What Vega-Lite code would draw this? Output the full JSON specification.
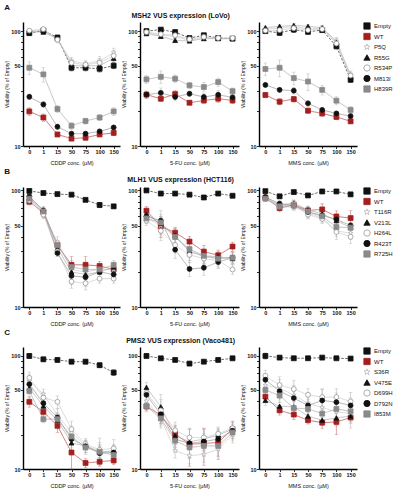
{
"$schema":"https://vega.github.io/schema/vega-lite/v6.json",
"padding":{"left":4,"top":3,"right":2,"bottom":2},
"background":"white",
"datasets":{"d":[
{"g":"A","d":"CDDP","s":"Empty","c":0,"v":96,"e":4},{"g":"A","d":"CDDP","s":"Empty","c":1,"v":101,"e":4},{"g":"A","d":"CDDP","s":"Empty","c":15,"v":88,"e":4},{"g":"A","d":"CDDP","s":"Empty","c":50,"v":48,"e":3},{"g":"A","d":"CDDP","s":"Empty","c":75,"v":48,"e":3},{"g":"A","d":"CDDP","s":"Empty","c":100,"v":47,"e":3},{"g":"A","d":"CDDP","s":"Empty","c":150,"v":50,"e":3},
{"g":"A","d":"CDDP","s":"WT","c":0,"v":20,"e":1.5},{"g":"A","d":"CDDP","s":"WT","c":1,"v":17.7,"e":1.3},{"g":"A","d":"CDDP","s":"WT","c":15,"v":12.6,"e":0.6},{"g":"A","d":"CDDP","s":"WT","c":50,"v":11.6,"e":0.5},{"g":"A","d":"CDDP","s":"WT","c":75,"v":11.8,"e":0.5},{"g":"A","d":"CDDP","s":"WT","c":100,"v":12.6,"e":0.5},{"g":"A","d":"CDDP","s":"WT","c":150,"v":13,"e":0.6},
{"g":"A","d":"CDDP","s":"P5Q","c":0,"v":100,"e":4},{"g":"A","d":"CDDP","s":"P5Q","c":1,"v":102,"e":5},{"g":"A","d":"CDDP","s":"P5Q","c":15,"v":85,"e":4},{"g":"A","d":"CDDP","s":"P5Q","c":50,"v":55,"e":4},{"g":"A","d":"CDDP","s":"P5Q","c":75,"v":52,"e":3},{"g":"A","d":"CDDP","s":"P5Q","c":100,"v":55,"e":5},{"g":"A","d":"CDDP","s":"P5Q","c":150,"v":65,"e":6},
{"g":"A","d":"CDDP","s":"R55G","c":0,"v":99,"e":3},{"g":"A","d":"CDDP","s":"R55G","c":1,"v":98,"e":4},{"g":"A","d":"CDDP","s":"R55G","c":15,"v":86,"e":4},{"g":"A","d":"CDDP","s":"R55G","c":50,"v":50,"e":3},{"g":"A","d":"CDDP","s":"R55G","c":75,"v":50,"e":3},{"g":"A","d":"CDDP","s":"R55G","c":100,"v":50,"e":3},{"g":"A","d":"CDDP","s":"R55G","c":150,"v":58,"e":5},
{"g":"A","d":"CDDP","s":"R534P","c":0,"v":101,"e":3},{"g":"A","d":"CDDP","s":"R534P","c":1,"v":104,"e":4},{"g":"A","d":"CDDP","s":"R534P","c":15,"v":84,"e":5},{"g":"A","d":"CDDP","s":"R534P","c":50,"v":53,"e":4},{"g":"A","d":"CDDP","s":"R534P","c":75,"v":51,"e":4},{"g":"A","d":"CDDP","s":"R534P","c":100,"v":53,"e":5},{"g":"A","d":"CDDP","s":"R534P","c":150,"v":61,"e":7},
{"g":"A","d":"CDDP","s":"M813I","c":0,"v":26.8,"e":1.5},{"g":"A","d":"CDDP","s":"M813I","c":1,"v":23,"e":1.5},{"g":"A","d":"CDDP","s":"M813I","c":15,"v":14.7,"e":0.8},{"g":"A","d":"CDDP","s":"M813I","c":50,"v":12.8,"e":0.5},{"g":"A","d":"CDDP","s":"M813I","c":75,"v":12.8,"e":0.5},{"g":"A","d":"CDDP","s":"M813I","c":100,"v":13.4,"e":0.5},{"g":"A","d":"CDDP","s":"M813I","c":150,"v":14.5,"e":0.6},
{"g":"A","d":"CDDP","s":"H839R","c":0,"v":48,"e":6},{"g":"A","d":"CDDP","s":"H839R","c":1,"v":42,"e":6},{"g":"A","d":"CDDP","s":"H839R","c":15,"v":21,"e":1.5},{"g":"A","d":"CDDP","s":"H839R","c":50,"v":15,"e":1},{"g":"A","d":"CDDP","s":"H839R","c":75,"v":16.5,"e":1},{"g":"A","d":"CDDP","s":"H839R","c":100,"v":17.7,"e":1},{"g":"A","d":"CDDP","s":"H839R","c":150,"v":20,"e":1.5},
{"g":"A","d":"5FU","s":"Empty","c":0,"v":100,"e":4},{"g":"A","d":"5FU","s":"Empty","c":1,"v":103,"e":3},{"g":"A","d":"5FU","s":"Empty","c":15,"v":98,"e":5},{"g":"A","d":"5FU","s":"Empty","c":50,"v":87,"e":3},{"g":"A","d":"5FU","s":"Empty","c":75,"v":92,"e":2},{"g":"A","d":"5FU","s":"Empty","c":100,"v":87,"e":2},{"g":"A","d":"5FU","s":"Empty","c":150,"v":86,"e":3},
{"g":"A","d":"5FU","s":"WT","c":0,"v":28,"e":2},{"g":"A","d":"5FU","s":"WT","c":1,"v":25.8,"e":1.5},{"g":"A","d":"5FU","s":"WT","c":15,"v":28.3,"e":2},{"g":"A","d":"5FU","s":"WT","c":50,"v":23.8,"e":1},{"g":"A","d":"5FU","s":"WT","c":75,"v":24.9,"e":1.5},{"g":"A","d":"5FU","s":"WT","c":100,"v":25.8,"e":2},{"g":"A","d":"5FU","s":"WT","c":150,"v":24.9,"e":1.5},
{"g":"A","d":"5FU","s":"P5Q","c":0,"v":97,"e":3},{"g":"A","d":"5FU","s":"P5Q","c":1,"v":92,"e":4},{"g":"A","d":"5FU","s":"P5Q","c":15,"v":90,"e":4},{"g":"A","d":"5FU","s":"P5Q","c":50,"v":83,"e":3},{"g":"A","d":"5FU","s":"P5Q","c":75,"v":88,"e":3},{"g":"A","d":"5FU","s":"P5Q","c":100,"v":86,"e":3},{"g":"A","d":"5FU","s":"P5Q","c":150,"v":86,"e":3},
{"g":"A","d":"5FU","s":"R55G","c":0,"v":95,"e":3},{"g":"A","d":"5FU","s":"R55G","c":1,"v":90,"e":4},{"g":"A","d":"5FU","s":"R55G","c":15,"v":83,"e":3},{"g":"A","d":"5FU","s":"R55G","c":50,"v":82,"e":3},{"g":"A","d":"5FU","s":"R55G","c":75,"v":86,"e":3},{"g":"A","d":"5FU","s":"R55G","c":100,"v":86,"e":3},{"g":"A","d":"5FU","s":"R55G","c":150,"v":86,"e":3},
{"g":"A","d":"5FU","s":"R534P","c":0,"v":98,"e":3},{"g":"A","d":"5FU","s":"R534P","c":1,"v":94,"e":4},{"g":"A","d":"5FU","s":"R534P","c":15,"v":92,"e":4},{"g":"A","d":"5FU","s":"R534P","c":50,"v":85,"e":3},{"g":"A","d":"5FU","s":"R534P","c":75,"v":89,"e":3},{"g":"A","d":"5FU","s":"R534P","c":100,"v":87,"e":3},{"g":"A","d":"5FU","s":"R534P","c":150,"v":87,"e":3},
{"g":"A","d":"5FU","s":"M813I","c":0,"v":28,"e":2},{"g":"A","d":"5FU","s":"M813I","c":1,"v":29,"e":3},{"g":"A","d":"5FU","s":"M813I","c":15,"v":26.7,"e":2},{"g":"A","d":"5FU","s":"M813I","c":50,"v":28.5,"e":1.5},{"g":"A","d":"5FU","s":"M813I","c":75,"v":26.7,"e":2},{"g":"A","d":"5FU","s":"M813I","c":100,"v":27.9,"e":2.5},{"g":"A","d":"5FU","s":"M813I","c":150,"v":26.5,"e":1.5},
{"g":"A","d":"5FU","s":"H839R","c":0,"v":38,"e":3},{"g":"A","d":"5FU","s":"H839R","c":1,"v":40,"e":5},{"g":"A","d":"5FU","s":"H839R","c":15,"v":38.5,"e":3},{"g":"A","d":"5FU","s":"H839R","c":50,"v":33.7,"e":2},{"g":"A","d":"5FU","s":"H839R","c":75,"v":32.6,"e":3},{"g":"A","d":"5FU","s":"H839R","c":100,"v":36,"e":3},{"g":"A","d":"5FU","s":"H839R","c":150,"v":30,"e":2},
{"g":"A","d":"MMS","s":"Empty","c":0,"v":100,"e":5},{"g":"A","d":"MMS","s":"Empty","c":1,"v":96.6,"e":5},{"g":"A","d":"MMS","s":"Empty","c":15,"v":103,"e":6},{"g":"A","d":"MMS","s":"Empty","c":50,"v":98.6,"e":5},{"g":"A","d":"MMS","s":"Empty","c":75,"v":102,"e":4},{"g":"A","d":"MMS","s":"Empty","c":100,"v":73.8,"e":4},{"g":"A","d":"MMS","s":"Empty","c":150,"v":37.7,"e":2},
{"g":"A","d":"MMS","s":"WT","c":0,"v":27.8,"e":1.5},{"g":"A","d":"MMS","s":"WT","c":1,"v":24.3,"e":1.5},{"g":"A","d":"MMS","s":"WT","c":15,"v":25.6,"e":1.5},{"g":"A","d":"MMS","s":"WT","c":50,"v":20.3,"e":1},{"g":"A","d":"MMS","s":"WT","c":75,"v":19.2,"e":1},{"g":"A","d":"MMS","s":"WT","c":100,"v":17.9,"e":1},{"g":"A","d":"MMS","s":"WT","c":150,"v":16.4,"e":0.8},
{"g":"A","d":"MMS","s":"P5Q","c":0,"v":104,"e":5},{"g":"A","d":"MMS","s":"P5Q","c":1,"v":106,"e":5},{"g":"A","d":"MMS","s":"P5Q","c":15,"v":110,"e":5},{"g":"A","d":"MMS","s":"P5Q","c":50,"v":104,"e":5},{"g":"A","d":"MMS","s":"P5Q","c":75,"v":106,"e":5},{"g":"A","d":"MMS","s":"P5Q","c":100,"v":82,"e":6},{"g":"A","d":"MMS","s":"P5Q","c":150,"v":42,"e":3},
{"g":"A","d":"MMS","s":"R55G","c":0,"v":107,"e":4},{"g":"A","d":"MMS","s":"R55G","c":1,"v":110,"e":4},{"g":"A","d":"MMS","s":"R55G","c":15,"v":112,"e":4},{"g":"A","d":"MMS","s":"R55G","c":50,"v":110,"e":4},{"g":"A","d":"MMS","s":"R55G","c":75,"v":107,"e":4},{"g":"A","d":"MMS","s":"R55G","c":100,"v":80,"e":6},{"g":"A","d":"MMS","s":"R55G","c":150,"v":40,"e":3},
{"g":"A","d":"MMS","s":"R534P","c":0,"v":101,"e":5},{"g":"A","d":"MMS","s":"R534P","c":1,"v":102,"e":5},{"g":"A","d":"MMS","s":"R534P","c":15,"v":106,"e":5},{"g":"A","d":"MMS","s":"R534P","c":50,"v":102,"e":5},{"g":"A","d":"MMS","s":"R534P","c":75,"v":104,"e":5},{"g":"A","d":"MMS","s":"R534P","c":100,"v":78,"e":6},{"g":"A","d":"MMS","s":"R534P","c":150,"v":41,"e":3},
{"g":"A","d":"MMS","s":"M813I","c":0,"v":34,"e":1.5},{"g":"A","d":"MMS","s":"M813I","c":1,"v":30.8,"e":1.5},{"g":"A","d":"MMS","s":"M813I","c":15,"v":30.3,"e":2},{"g":"A","d":"MMS","s":"M813I","c":50,"v":23.5,"e":1.5},{"g":"A","d":"MMS","s":"M813I","c":75,"v":20.6,"e":1},{"g":"A","d":"MMS","s":"M813I","c":100,"v":19.2,"e":0.8},{"g":"A","d":"MMS","s":"M813I","c":150,"v":18.2,"e":0.8},
{"g":"A","d":"MMS","s":"H839R","c":0,"v":46.8,"e":6},{"g":"A","d":"MMS","s":"H839R","c":1,"v":48,"e":8},{"g":"A","d":"MMS","s":"H839R","c":15,"v":39,"e":5},{"g":"A","d":"MMS","s":"H839R","c":50,"v":36.4,"e":6},{"g":"A","d":"MMS","s":"H839R","c":75,"v":30.8,"e":3},{"g":"A","d":"MMS","s":"H839R","c":100,"v":24.8,"e":2},{"g":"A","d":"MMS","s":"H839R","c":150,"v":20.6,"e":1.5},
{"g":"B","d":"CDDP","s":"Empty","c":0,"v":99,"e":3},{"g":"B","d":"CDDP","s":"Empty","c":1,"v":95,"e":3},{"g":"B","d":"CDDP","s":"Empty","c":15,"v":93,"e":2},{"g":"B","d":"CDDP","s":"Empty","c":50,"v":92,"e":2},{"g":"B","d":"CDDP","s":"Empty","c":75,"v":83,"e":3},{"g":"B","d":"CDDP","s":"Empty","c":100,"v":75,"e":4},{"g":"B","d":"CDDP","s":"Empty","c":150,"v":73,"e":3},
{"g":"B","d":"CDDP","s":"WT","c":0,"v":80,"e":5},{"g":"B","d":"CDDP","s":"WT","c":1,"v":65,"e":6},{"g":"B","d":"CDDP","s":"WT","c":15,"v":34,"e":3},{"g":"B","d":"CDDP","s":"WT","c":50,"v":23,"e":4},{"g":"B","d":"CDDP","s":"WT","c":75,"v":23,"e":4},{"g":"B","d":"CDDP","s":"WT","c":100,"v":22.5,"e":2},{"g":"B","d":"CDDP","s":"WT","c":150,"v":21,"e":2},
{"g":"B","d":"CDDP","s":"T116R","c":0,"v":83,"e":4},{"g":"B","d":"CDDP","s":"T116R","c":1,"v":63,"e":5},{"g":"B","d":"CDDP","s":"T116R","c":15,"v":36,"e":4},{"g":"B","d":"CDDP","s":"T116R","c":50,"v":21,"e":3},{"g":"B","d":"CDDP","s":"T116R","c":75,"v":20,"e":3},{"g":"B","d":"CDDP","s":"T116R","c":100,"v":21,"e":2},{"g":"B","d":"CDDP","s":"T116R","c":150,"v":21,"e":2},
{"g":"B","d":"CDDP","s":"V213L","c":0,"v":87,"e":4},{"g":"B","d":"CDDP","s":"V213L","c":1,"v":68,"e":5},{"g":"B","d":"CDDP","s":"V213L","c":15,"v":32,"e":3},{"g":"B","d":"CDDP","s":"V213L","c":50,"v":20,"e":3},{"g":"B","d":"CDDP","s":"V213L","c":75,"v":19,"e":3},{"g":"B","d":"CDDP","s":"V213L","c":100,"v":20,"e":2},{"g":"B","d":"CDDP","s":"V213L","c":150,"v":22,"e":2},
{"g":"B","d":"CDDP","s":"H264L","c":0,"v":82,"e":4},{"g":"B","d":"CDDP","s":"H264L","c":1,"v":62,"e":5},{"g":"B","d":"CDDP","s":"H264L","c":15,"v":30,"e":3},{"g":"B","d":"CDDP","s":"H264L","c":50,"v":16.5,"e":2},{"g":"B","d":"CDDP","s":"H264L","c":75,"v":16,"e":2},{"g":"B","d":"CDDP","s":"H264L","c":100,"v":17.5,"e":1.5},{"g":"B","d":"CDDP","s":"H264L","c":150,"v":17.5,"e":1.5},
{"g":"B","d":"CDDP","s":"R423T","c":0,"v":89,"e":4},{"g":"B","d":"CDDP","s":"R423T","c":1,"v":67,"e":5},{"g":"B","d":"CDDP","s":"R423T","c":15,"v":29,"e":2},{"g":"B","d":"CDDP","s":"R423T","c":50,"v":18.5,"e":3},{"g":"B","d":"CDDP","s":"R423T","c":75,"v":18,"e":3},{"g":"B","d":"CDDP","s":"R423T","c":100,"v":20,"e":2},{"g":"B","d":"CDDP","s":"R423T","c":150,"v":19,"e":2},
{"g":"B","d":"CDDP","s":"R725H","c":0,"v":85,"e":4},{"g":"B","d":"CDDP","s":"R725H","c":1,"v":66,"e":5},{"g":"B","d":"CDDP","s":"R725H","c":15,"v":34,"e":3},{"g":"B","d":"CDDP","s":"R725H","c":50,"v":22,"e":3},{"g":"B","d":"CDDP","s":"R725H","c":75,"v":21,"e":3},{"g":"B","d":"CDDP","s":"R725H","c":100,"v":21,"e":2},{"g":"B","d":"CDDP","s":"R725H","c":150,"v":23,"e":2},
{"g":"B","d":"5FU","s":"Empty","c":0,"v":100,"e":2},{"g":"B","d":"5FU","s":"Empty","c":1,"v":94,"e":4},{"g":"B","d":"5FU","s":"Empty","c":15,"v":94,"e":2},{"g":"B","d":"5FU","s":"Empty","c":50,"v":92,"e":3},{"g":"B","d":"5FU","s":"Empty","c":75,"v":87,"e":3},{"g":"B","d":"5FU","s":"Empty","c":100,"v":94,"e":2},{"g":"B","d":"5FU","s":"Empty","c":150,"v":90,"e":3},
{"g":"B","d":"5FU","s":"WT","c":0,"v":67,"e":6},{"g":"B","d":"5FU","s":"WT","c":1,"v":49.3,"e":10},{"g":"B","d":"5FU","s":"WT","c":15,"v":43.4,"e":5},{"g":"B","d":"5FU","s":"WT","c":50,"v":36.4,"e":4},{"g":"B","d":"5FU","s":"WT","c":75,"v":29.8,"e":4},{"g":"B","d":"5FU","s":"WT","c":100,"v":27.8,"e":3},{"g":"B","d":"5FU","s":"WT","c":150,"v":33,"e":3},
{"g":"B","d":"5FU","s":"T116R","c":0,"v":58,"e":6},{"g":"B","d":"5FU","s":"T116R","c":1,"v":50,"e":8},{"g":"B","d":"5FU","s":"T116R","c":15,"v":40,"e":7},{"g":"B","d":"5FU","s":"T116R","c":50,"v":30,"e":5},{"g":"B","d":"5FU","s":"T116R","c":75,"v":27,"e":4},{"g":"B","d":"5FU","s":"T116R","c":100,"v":26,"e":3},{"g":"B","d":"5FU","s":"T116R","c":150,"v":27,"e":3},
{"g":"B","d":"5FU","s":"V213L","c":0,"v":62,"e":6},{"g":"B","d":"5FU","s":"V213L","c":1,"v":52,"e":8},{"g":"B","d":"5FU","s":"V213L","c":15,"v":41,"e":6},{"g":"B","d":"5FU","s":"V213L","c":50,"v":30,"e":5},{"g":"B","d":"5FU","s":"V213L","c":75,"v":27.5,"e":4},{"g":"B","d":"5FU","s":"V213L","c":100,"v":27,"e":3},{"g":"B","d":"5FU","s":"V213L","c":150,"v":26,"e":3},
{"g":"B","d":"5FU","s":"H264L","c":0,"v":55,"e":5},{"g":"B","d":"5FU","s":"H264L","c":1,"v":45,"e":8},{"g":"B","d":"5FU","s":"H264L","c":15,"v":34,"e":5},{"g":"B","d":"5FU","s":"H264L","c":50,"v":28,"e":4},{"g":"B","d":"5FU","s":"H264L","c":75,"v":26,"e":3},{"g":"B","d":"5FU","s":"H264L","c":100,"v":25,"e":3},{"g":"B","d":"5FU","s":"H264L","c":150,"v":21,"e":2},
{"g":"B","d":"5FU","s":"R423T","c":0,"v":60,"e":6},{"g":"B","d":"5FU","s":"R423T","c":1,"v":55,"e":12},{"g":"B","d":"5FU","s":"R423T","c":15,"v":31,"e":5},{"g":"B","d":"5FU","s":"R423T","c":50,"v":21.2,"e":3},{"g":"B","d":"5FU","s":"R423T","c":75,"v":21.7,"e":3},{"g":"B","d":"5FU","s":"R423T","c":100,"v":24.3,"e":3},{"g":"B","d":"5FU","s":"R423T","c":150,"v":26.5,"e":3},
{"g":"B","d":"5FU","s":"R725H","c":0,"v":57.5,"e":5},{"g":"B","d":"5FU","s":"R725H","c":1,"v":53,"e":9},{"g":"B","d":"5FU","s":"R725H","c":15,"v":39.8,"e":7},{"g":"B","d":"5FU","s":"R725H","c":50,"v":31.4,"e":5},{"g":"B","d":"5FU","s":"R725H","c":75,"v":27.5,"e":4},{"g":"B","d":"5FU","s":"R725H","c":100,"v":26,"e":3},{"g":"B","d":"5FU","s":"R725H","c":150,"v":26.5,"e":3},
{"g":"B","d":"MMS","s":"Empty","c":0,"v":98.6,"e":3},{"g":"B","d":"MMS","s":"Empty","c":1,"v":89,"e":3},{"g":"B","d":"MMS","s":"Empty","c":15,"v":96.8,"e":3},{"g":"B","d":"MMS","s":"Empty","c":50,"v":90.6,"e":3},{"g":"B","d":"MMS","s":"Empty","c":75,"v":98,"e":4},{"g":"B","d":"MMS","s":"Empty","c":100,"v":98,"e":3},{"g":"B","d":"MMS","s":"Empty","c":150,"v":92.5,"e":3},
{"g":"B","d":"MMS","s":"WT","c":0,"v":86.5,"e":5},{"g":"B","d":"MMS","s":"WT","c":1,"v":70.6,"e":5},{"g":"B","d":"MMS","s":"WT","c":15,"v":75.4,"e":6},{"g":"B","d":"MMS","s":"WT","c":50,"v":67.4,"e":6},{"g":"B","d":"MMS","s":"WT","c":75,"v":68.7,"e":8},{"g":"B","d":"MMS","s":"WT","c":100,"v":59.8,"e":7},{"g":"B","d":"MMS","s":"WT","c":150,"v":57.9,"e":9},
{"g":"B","d":"MMS","s":"T116R","c":0,"v":84,"e":4},{"g":"B","d":"MMS","s":"T116R","c":1,"v":72,"e":5},{"g":"B","d":"MMS","s":"T116R","c":15,"v":72,"e":5},{"g":"B","d":"MMS","s":"T116R","c":50,"v":64,"e":6},{"g":"B","d":"MMS","s":"T116R","c":75,"v":58,"e":5},{"g":"B","d":"MMS","s":"T116R","c":100,"v":45,"e":5},{"g":"B","d":"MMS","s":"T116R","c":150,"v":43,"e":5},
{"g":"B","d":"MMS","s":"V213L","c":0,"v":88,"e":4},{"g":"B","d":"MMS","s":"V213L","c":1,"v":75,"e":5},{"g":"B","d":"MMS","s":"V213L","c":15,"v":78,"e":5},{"g":"B","d":"MMS","s":"V213L","c":50,"v":68,"e":5},{"g":"B","d":"MMS","s":"V213L","c":75,"v":63,"e":5},{"g":"B","d":"MMS","s":"V213L","c":100,"v":55,"e":5},{"g":"B","d":"MMS","s":"V213L","c":150,"v":48,"e":5},
{"g":"B","d":"MMS","s":"H264L","c":0,"v":86,"e":4},{"g":"B","d":"MMS","s":"H264L","c":1,"v":73,"e":5},{"g":"B","d":"MMS","s":"H264L","c":15,"v":76,"e":6},{"g":"B","d":"MMS","s":"H264L","c":50,"v":62,"e":5},{"g":"B","d":"MMS","s":"H264L","c":75,"v":57,"e":5},{"g":"B","d":"MMS","s":"H264L","c":100,"v":44,"e":6},{"g":"B","d":"MMS","s":"H264L","c":150,"v":40,"e":5},
{"g":"B","d":"MMS","s":"R423T","c":0,"v":87.7,"e":4},{"g":"B","d":"MMS","s":"R423T","c":1,"v":76.9,"e":5},{"g":"B","d":"MMS","s":"R423T","c":15,"v":74.4,"e":5},{"g":"B","d":"MMS","s":"R423T","c":50,"v":65.2,"e":6},{"g":"B","d":"MMS","s":"R423T","c":75,"v":61,"e":5},{"g":"B","d":"MMS","s":"R423T","c":100,"v":56.4,"e":5},{"g":"B","d":"MMS","s":"R423T","c":150,"v":50,"e":5},
{"g":"B","d":"MMS","s":"R725H","c":0,"v":85,"e":4},{"g":"B","d":"MMS","s":"R725H","c":1,"v":73,"e":5},{"g":"B","d":"MMS","s":"R725H","c":15,"v":74,"e":5},{"g":"B","d":"MMS","s":"R725H","c":50,"v":66,"e":5},{"g":"B","d":"MMS","s":"R725H","c":75,"v":60,"e":5},{"g":"B","d":"MMS","s":"R725H","c":100,"v":48.5,"e":5},{"g":"B","d":"MMS","s":"R725H","c":150,"v":48,"e":5},
{"g":"C","d":"CDDP","s":"Empty","c":0,"v":100,"e":5},{"g":"C","d":"CDDP","s":"Empty","c":1,"v":93.4,"e":4},{"g":"C","d":"CDDP","s":"Empty","c":15,"v":92.2,"e":4},{"g":"C","d":"CDDP","s":"Empty","c":50,"v":89,"e":4},{"g":"C","d":"CDDP","s":"Empty","c":75,"v":89,"e":4},{"g":"C","d":"CDDP","s":"Empty","c":100,"v":82.8,"e":4},{"g":"C","d":"CDDP","s":"Empty","c":150,"v":71.3,"e":4},
{"g":"C","d":"CDDP","s":"WT","c":0,"v":39.3,"e":4},{"g":"C","d":"CDDP","s":"WT","c":1,"v":32,"e":4},{"g":"C","d":"CDDP","s":"WT","c":15,"v":24.1,"e":3},{"g":"C","d":"CDDP","s":"WT","c":50,"v":14,"e":4},{"g":"C","d":"CDDP","s":"WT","c":75,"v":11.3,"e":1},{"g":"C","d":"CDDP","s":"WT","c":100,"v":11.6,"e":1},{"g":"C","d":"CDDP","s":"WT","c":150,"v":11.9,"e":1},
{"g":"C","d":"CDDP","s":"S36R","c":0,"v":60,"e":8},{"g":"C","d":"CDDP","s":"S36R","c":1,"v":46,"e":5},{"g":"C","d":"CDDP","s":"S36R","c":15,"v":30,"e":4},{"g":"C","d":"CDDP","s":"S36R","c":50,"v":21,"e":3},{"g":"C","d":"CDDP","s":"S36R","c":75,"v":16,"e":2},{"g":"C","d":"CDDP","s":"S36R","c":100,"v":14.5,"e":2},{"g":"C","d":"CDDP","s":"S36R","c":150,"v":14,"e":2},
{"g":"C","d":"CDDP","s":"V475E","c":0,"v":52,"e":6},{"g":"C","d":"CDDP","s":"V475E","c":1,"v":36,"e":4},{"g":"C","d":"CDDP","s":"V475E","c":15,"v":27,"e":3},{"g":"C","d":"CDDP","s":"V475E","c":50,"v":17,"e":3},{"g":"C","d":"CDDP","s":"V475E","c":75,"v":16,"e":2},{"g":"C","d":"CDDP","s":"V475E","c":100,"v":14,"e":2},{"g":"C","d":"CDDP","s":"V475E","c":150,"v":14.5,"e":2},
{"g":"C","d":"CDDP","s":"D699H","c":0,"v":64,"e":8},{"g":"C","d":"CDDP","s":"D699H","c":1,"v":42.8,"e":5},{"g":"C","d":"CDDP","s":"D699H","c":15,"v":39.3,"e":5},{"g":"C","d":"CDDP","s":"D699H","c":50,"v":22.5,"e":4},{"g":"C","d":"CDDP","s":"D699H","c":75,"v":16.6,"e":2},{"g":"C","d":"CDDP","s":"D699H","c":100,"v":14.8,"e":4},{"g":"C","d":"CDDP","s":"D699H","c":150,"v":15.2,"e":3},
{"g":"C","d":"CDDP","s":"D792N","c":0,"v":56.3,"e":6},{"g":"C","d":"CDDP","s":"D792N","c":1,"v":38.2,"e":4},{"g":"C","d":"CDDP","s":"D792N","c":15,"v":28.6,"e":3},{"g":"C","d":"CDDP","s":"D792N","c":50,"v":18.4,"e":3},{"g":"C","d":"CDDP","s":"D792N","c":75,"v":15.9,"e":2},{"g":"C","d":"CDDP","s":"D792N","c":100,"v":13.8,"e":2},{"g":"C","d":"CDDP","s":"D792N","c":150,"v":14,"e":2},
{"g":"C","d":"CDDP","s":"I853M","c":0,"v":49,"e":5},{"g":"C","d":"CDDP","s":"I853M","c":1,"v":27.6,"e":2},{"g":"C","d":"CDDP","s":"I853M","c":15,"v":27.6,"e":2},{"g":"C","d":"CDDP","s":"I853M","c":50,"v":19.4,"e":2},{"g":"C","d":"CDDP","s":"I853M","c":75,"v":15.5,"e":2},{"g":"C","d":"CDDP","s":"I853M","c":100,"v":14.2,"e":3},{"g":"C","d":"CDDP","s":"I853M","c":150,"v":13.3,"e":2},
{"g":"C","d":"5FU","s":"Empty","c":0,"v":100,"e":4},{"g":"C","d":"5FU","s":"Empty","c":1,"v":95.3,"e":3},{"g":"C","d":"5FU","s":"Empty","c":15,"v":92.2,"e":3},{"g":"C","d":"5FU","s":"Empty","c":50,"v":85.6,"e":3},{"g":"C","d":"5FU","s":"Empty","c":75,"v":89,"e":3},{"g":"C","d":"5FU","s":"Empty","c":100,"v":92.2,"e":3},{"g":"C","d":"5FU","s":"Empty","c":150,"v":95.3,"e":3},
{"g":"C","d":"5FU","s":"WT","c":0,"v":35.7,"e":3},{"g":"C","d":"5FU","s":"WT","c":1,"v":30.1,"e":5},{"g":"C","d":"5FU","s":"WT","c":15,"v":20.4,"e":4},{"g":"C","d":"5FU","s":"WT","c":50,"v":16.6,"e":6},{"g":"C","d":"5FU","s":"WT","c":75,"v":16.8,"e":6},{"g":"C","d":"5FU","s":"WT","c":100,"v":17.2,"e":5},{"g":"C","d":"5FU","s":"WT","c":150,"v":22.5,"e":4},
{"g":"C","d":"5FU","s":"S36R","c":0,"v":40,"e":5},{"g":"C","d":"5FU","s":"S36R","c":1,"v":28,"e":5},{"g":"C","d":"5FU","s":"S36R","c":15,"v":14.5,"e":2},{"g":"C","d":"5FU","s":"S36R","c":50,"v":13.1,"e":2},{"g":"C","d":"5FU","s":"S36R","c":75,"v":13.5,"e":2},{"g":"C","d":"5FU","s":"S36R","c":100,"v":15,"e":2},{"g":"C","d":"5FU","s":"S36R","c":150,"v":20,"e":3},
{"g":"C","d":"5FU","s":"V475E","c":0,"v":52.6,"e":6},{"g":"C","d":"5FU","s":"V475E","c":1,"v":35.5,"e":10},{"g":"C","d":"5FU","s":"V475E","c":15,"v":19.7,"e":4},{"g":"C","d":"5FU","s":"V475E","c":50,"v":17.4,"e":5},{"g":"C","d":"5FU","s":"V475E","c":75,"v":18.4,"e":4},{"g":"C","d":"5FU","s":"V475E","c":100,"v":20,"e":3},{"g":"C","d":"5FU","s":"V475E","c":150,"v":22.5,"e":3},
{"g":"C","d":"5FU","s":"D699H","c":0,"v":47,"e":8},{"g":"C","d":"5FU","s":"D699H","c":1,"v":33,"e":8},{"g":"C","d":"5FU","s":"D699H","c":15,"v":22,"e":4},{"g":"C","d":"5FU","s":"D699H","c":50,"v":19,"e":4},{"g":"C","d":"5FU","s":"D699H","c":75,"v":19,"e":4},{"g":"C","d":"5FU","s":"D699H","c":100,"v":20.5,"e":3},{"g":"C","d":"5FU","s":"D699H","c":150,"v":23,"e":3},
{"g":"C","d":"5FU","s":"D792N","c":0,"v":45.3,"e":5},{"g":"C","d":"5FU","s":"D792N","c":1,"v":30.5,"e":5},{"g":"C","d":"5FU","s":"D792N","c":15,"v":18.4,"e":3},{"g":"C","d":"5FU","s":"D792N","c":50,"v":16.8,"e":3},{"g":"C","d":"5FU","s":"D792N","c":75,"v":17.5,"e":3},{"g":"C","d":"5FU","s":"D792N","c":100,"v":18.4,"e":3},{"g":"C","d":"5FU","s":"D792N","c":150,"v":21.8,"e":3},
{"g":"C","d":"5FU","s":"I853M","c":0,"v":36,"e":4},{"g":"C","d":"5FU","s":"I853M","c":1,"v":28,"e":4},{"g":"C","d":"5FU","s":"I853M","c":15,"v":17.8,"e":3},{"g":"C","d":"5FU","s":"I853M","c":50,"v":15.5,"e":3},{"g":"C","d":"5FU","s":"I853M","c":75,"v":16,"e":3},{"g":"C","d":"5FU","s":"I853M","c":100,"v":16,"e":3},{"g":"C","d":"5FU","s":"I853M","c":150,"v":21,"e":3},
{"g":"C","d":"MMS","s":"Empty","c":0,"v":100,"e":6},{"g":"C","d":"MMS","s":"Empty","c":1,"v":96.7,"e":3},{"g":"C","d":"MMS","s":"Empty","c":15,"v":95.4,"e":3},{"g":"C","d":"MMS","s":"Empty","c":50,"v":95.4,"e":3},{"g":"C","d":"MMS","s":"Empty","c":75,"v":96.7,"e":3},{"g":"C","d":"MMS","s":"Empty","c":100,"v":95.4,"e":3},{"g":"C","d":"MMS","s":"Empty","c":150,"v":94.8,"e":3},
{"g":"C","d":"MMS","s":"WT","c":0,"v":43.7,"e":4},{"g":"C","d":"MMS","s":"WT","c":1,"v":33,"e":3},{"g":"C","d":"MMS","s":"WT","c":15,"v":30.3,"e":3},{"g":"C","d":"MMS","s":"WT","c":50,"v":27,"e":2},{"g":"C","d":"MMS","s":"WT","c":75,"v":25.7,"e":3},{"g":"C","d":"MMS","s":"WT","c":100,"v":26.1,"e":6},{"g":"C","d":"MMS","s":"WT","c":150,"v":28.5,"e":3},
{"g":"C","d":"MMS","s":"S36R","c":0,"v":55,"e":10},{"g":"C","d":"MMS","s":"S36R","c":1,"v":52,"e":10},{"g":"C","d":"MMS","s":"S36R","c":15,"v":45,"e":10},{"g":"C","d":"MMS","s":"S36R","c":50,"v":38,"e":8},{"g":"C","d":"MMS","s":"S36R","c":75,"v":35,"e":9},{"g":"C","d":"MMS","s":"S36R","c":100,"v":32,"e":8},{"g":"C","d":"MMS","s":"S36R","c":150,"v":31,"e":8},
{"g":"C","d":"MMS","s":"V475E","c":0,"v":40.4,"e":4},{"g":"C","d":"MMS","s":"V475E","c":1,"v":36,"e":3},{"g":"C","d":"MMS","s":"V475E","c":15,"v":35.4,"e":4},{"g":"C","d":"MMS","s":"V475E","c":50,"v":29.4,"e":3},{"g":"C","d":"MMS","s":"V475E","c":75,"v":27,"e":3},{"g":"C","d":"MMS","s":"V475E","c":100,"v":28.3,"e":4},{"g":"C","d":"MMS","s":"V475E","c":150,"v":29.4,"e":3},
{"g":"C","d":"MMS","s":"D699H","c":0,"v":66.8,"e":8},{"g":"C","d":"MMS","s":"D699H","c":1,"v":55.3,"e":10},{"g":"C","d":"MMS","s":"D699H","c":15,"v":51,"e":10},{"g":"C","d":"MMS","s":"D699H","c":50,"v":45.3,"e":6},{"g":"C","d":"MMS","s":"D699H","c":75,"v":43.2,"e":8},{"g":"C","d":"MMS","s":"D699H","c":100,"v":43.2,"e":8},{"g":"C","d":"MMS","s":"D699H","c":150,"v":39.6,"e":8},
{"g":"C","d":"MMS","s":"D792N","c":0,"v":61.6,"e":8},{"g":"C","d":"MMS","s":"D792N","c":1,"v":48.8,"e":8},{"g":"C","d":"MMS","s":"D792N","c":15,"v":42.4,"e":6},{"g":"C","d":"MMS","s":"D792N","c":50,"v":36.5,"e":5},{"g":"C","d":"MMS","s":"D792N","c":75,"v":40.4,"e":10},{"g":"C","d":"MMS","s":"D792N","c":100,"v":39,"e":8},{"g":"C","d":"MMS","s":"D792N","c":150,"v":36.5,"e":6},
{"g":"C","d":"MMS","s":"I853M","c":0,"v":50,"e":6},{"g":"C","d":"MMS","s":"I853M","c":1,"v":44.7,"e":6},{"g":"C","d":"MMS","s":"I853M","c":15,"v":34.6,"e":5},{"g":"C","d":"MMS","s":"I853M","c":50,"v":34,"e":4},{"g":"C","d":"MMS","s":"I853M","c":75,"v":30.9,"e":4},{"g":"C","d":"MMS","s":"I853M","c":100,"v":34,"e":5},{"g":"C","d":"MMS","s":"I853M","c":150,"v":32.4,"e":4}
]},
"data":{"name":"d"},
"resolve":{"scale":{"stroke":"independent","fill":"independent","shape":"independent"}},
"spacing":2,
"vconcat":[
{"title":{"text":"A","anchor":"start","fontSize":8,"offset":0},
 "vconcat":[{"title":{"text":"MSH2 VUS expression (LoVo)","anchor":"middle"},"spacing":1,"hconcat":[
  {"width":97,"height":124,"transform":[{"filter":"datum.g=='A'&&datum.d=='CDDP'"}],
   "encoding":{"x":{"field":"c","type":"ordinal","scale":{"type":"point","padding":0.45},"axis":{"title":"CDDP conc. (µM)","labelAngle":0}},
    "y":{"field":"v","type":"quantitative","scale":{"type":"log","domain":[10,120],"nice":false},"axis":{"title":"Viability (% of Empty)","values":[10,20,30,40,50,60,70,80,90,100],"format":"d","labelExpr":"datum.value==10||datum.value==50||datum.value==100?datum.label:''"}}},
   "layer":[
    {"mark":{"type":"line","strokeWidth":0.7},"encoding":{"detail":{"field":"s"},"color":{"condition":[{"test":"datum.s=='Empty'","value":"#2a2a2a"},{"test":"datum.s=='WT'","value":"#b83a3a"},{"test":"indexof(['M813I','R423T','D792N'],datum.s)>=0","value":"#8f8f8f"},{"test":"indexof(['H839R','R725H','I853M','R55G','V213L','V475E'],datum.s)>=0","value":"#a8a8a8"}],"value":"#c8c8c8"},"strokeDash":{"condition":{"test":"datum.s=='Empty'","value":[2.5,1.5]},"value":[1,0]}}},
    {"mark":{"type":"errorbar","ticks":{"size":3.5},"size":3.5,"thickness":0.6},"encoding":{"yError":{"field":"e"},"color":{"condition":[{"test":"datum.s=='Empty'","value":"#333333"},{"test":"datum.s=='WT'","value":"#cc6a6a"}],"value":"#b5b5b5"}}},
    {"mark":{"type":"point","size":24,"strokeWidth":0.8,"opacity":1},"encoding":{
      "shape":{"field":"s","type":"nominal","title":null,"scale":{"domain":["Empty","WT","P5Q","R55G","R534P","M813I","H839R"],"range":["square","square","M0,-1L0.24,-0.33L0.95,-0.31L0.38,0.12L0.59,0.81L0,0.4L-0.59,0.81L-0.38,0.12L-0.95,-0.31L-0.24,-0.33Z","triangle-up","circle","circle","square"]}},
      "stroke":{"field":"s","type":"nominal","title":null,"scale":{"domain":["Empty","WT","P5Q","R55G","R534P","M813I","H839R"],"range":["#111111","#a31f1f","#b8b8b8","#111111","#999999","#111111","#8a8a8a"]}},
      "fill":{"field":"s","type":"nominal","title":null,"scale":{"domain":["Empty","WT","P5Q","R55G","R534P","M813I","H839R"],"range":["#111111","#a31f1f","#ffffff","#111111","#ffffff","#111111","#8a8a8a"]}}}}
   ]},
  {"width":99,"height":124,"transform":[{"filter":"datum.g=='A'&&datum.d=='5FU'"}],
   "encoding":{"x":{"field":"c","type":"ordinal","scale":{"type":"point","padding":0.45},"axis":{"title":"5-FU conc. (µM)","labelAngle":0}},
    "y":{"field":"v","type":"quantitative","scale":{"type":"log","domain":[10,120],"nice":false},"axis":{"title":"Viability (% of Empty)","values":[10,20,30,40,50,60,70,80,90,100],"format":"d","labelExpr":"datum.value==10||datum.value==50||datum.value==100?datum.label:''"}}},
   "layer":[
    {"mark":{"type":"line","strokeWidth":0.7},"encoding":{"detail":{"field":"s"},"color":{"condition":[{"test":"datum.s=='Empty'","value":"#2a2a2a"},{"test":"datum.s=='WT'","value":"#b83a3a"},{"test":"indexof(['M813I','R423T','D792N'],datum.s)>=0","value":"#8f8f8f"},{"test":"indexof(['H839R','R725H','I853M','R55G','V213L','V475E'],datum.s)>=0","value":"#a8a8a8"}],"value":"#c8c8c8"},"strokeDash":{"condition":{"test":"datum.s=='Empty'","value":[2.5,1.5]},"value":[1,0]}}},
    {"mark":{"type":"errorbar","ticks":{"size":3.5},"size":3.5,"thickness":0.6},"encoding":{"yError":{"field":"e"},"color":{"condition":[{"test":"datum.s=='Empty'","value":"#333333"},{"test":"datum.s=='WT'","value":"#cc6a6a"}],"value":"#b5b5b5"}}},
    {"mark":{"type":"point","size":24,"strokeWidth":0.8,"opacity":1},"encoding":{
      "shape":{"field":"s","type":"nominal","title":null,"scale":{"domain":["Empty","WT","P5Q","R55G","R534P","M813I","H839R"],"range":["square","square","M0,-1L0.24,-0.33L0.95,-0.31L0.38,0.12L0.59,0.81L0,0.4L-0.59,0.81L-0.38,0.12L-0.95,-0.31L-0.24,-0.33Z","triangle-up","circle","circle","square"]}},
      "stroke":{"field":"s","type":"nominal","title":null,"scale":{"domain":["Empty","WT","P5Q","R55G","R534P","M813I","H839R"],"range":["#111111","#a31f1f","#b8b8b8","#111111","#999999","#111111","#8a8a8a"]}},
      "fill":{"field":"s","type":"nominal","title":null,"scale":{"domain":["Empty","WT","P5Q","R55G","R534P","M813I","H839R"],"range":["#111111","#a31f1f","#ffffff","#111111","#ffffff","#111111","#8a8a8a"]}}}}
   ]},
  {"width":98,"height":124,"transform":[{"filter":"datum.g=='A'&&datum.d=='MMS'"}],
   "encoding":{"x":{"field":"c","type":"ordinal","scale":{"type":"point","padding":0.45},"axis":{"title":"MMS conc. (µM)","labelAngle":0}},
    "y":{"field":"v","type":"quantitative","scale":{"type":"log","domain":[10,120],"nice":false},"axis":{"title":"Viability (% of Empty)","values":[10,20,30,40,50,60,70,80,90,100],"format":"d","labelExpr":"datum.value==10||datum.value==50||datum.value==100?datum.label:''"}}},
   "layer":[
    {"mark":{"type":"line","strokeWidth":0.7},"encoding":{"detail":{"field":"s"},"color":{"condition":[{"test":"datum.s=='Empty'","value":"#2a2a2a"},{"test":"datum.s=='WT'","value":"#b83a3a"},{"test":"indexof(['M813I','R423T','D792N'],datum.s)>=0","value":"#8f8f8f"},{"test":"indexof(['H839R','R725H','I853M','R55G','V213L','V475E'],datum.s)>=0","value":"#a8a8a8"}],"value":"#c8c8c8"},"strokeDash":{"condition":{"test":"datum.s=='Empty'","value":[2.5,1.5]},"value":[1,0]}}},
    {"mark":{"type":"errorbar","ticks":{"size":3.5},"size":3.5,"thickness":0.6},"encoding":{"yError":{"field":"e"},"color":{"condition":[{"test":"datum.s=='Empty'","value":"#333333"},{"test":"datum.s=='WT'","value":"#cc6a6a"}],"value":"#b5b5b5"}}},
    {"mark":{"type":"point","size":24,"strokeWidth":0.8,"opacity":1},"encoding":{
      "shape":{"field":"s","type":"nominal","title":null,"scale":{"domain":["Empty","WT","P5Q","R55G","R534P","M813I","H839R"],"range":["square","square","M0,-1L0.24,-0.33L0.95,-0.31L0.38,0.12L0.59,0.81L0,0.4L-0.59,0.81L-0.38,0.12L-0.95,-0.31L-0.24,-0.33Z","triangle-up","circle","circle","square"]}},
      "stroke":{"field":"s","type":"nominal","title":null,"scale":{"domain":["Empty","WT","P5Q","R55G","R534P","M813I","H839R"],"range":["#111111","#a31f1f","#b8b8b8","#111111","#999999","#111111","#8a8a8a"]}},
      "fill":{"field":"s","type":"nominal","title":null,"scale":{"domain":["Empty","WT","P5Q","R55G","R534P","M813I","H839R"],"range":["#111111","#a31f1f","#ffffff","#111111","#ffffff","#111111","#8a8a8a"]}}}}
   ]}
 ]}]},
{"title":{"text":"B","anchor":"start","fontSize":8,"offset":0},
 "vconcat":[{"title":{"text":"MLH1 VUS expression (HCT116)","anchor":"middle"},"spacing":1,"hconcat":[
  {"width":97,"height":120,"transform":[{"filter":"datum.g=='B'&&datum.d=='CDDP'"}],
   "encoding":{"x":{"field":"c","type":"ordinal","scale":{"type":"point","padding":0.45},"axis":{"title":"CDDP conc. (µM)","labelAngle":0}},
    "y":{"field":"v","type":"quantitative","scale":{"type":"log","domain":[10,107],"nice":false},"axis":{"title":"Viability (% of Empty)","values":[10,20,30,40,50,60,70,80,90,100],"format":"d","labelExpr":"datum.value==10||datum.value==50||datum.value==100?datum.label:''"}}},
   "layer":[
    {"mark":{"type":"line","strokeWidth":0.7},"encoding":{"detail":{"field":"s"},"color":{"condition":[{"test":"datum.s=='Empty'","value":"#2a2a2a"},{"test":"datum.s=='WT'","value":"#b83a3a"},{"test":"indexof(['M813I','R423T','D792N'],datum.s)>=0","value":"#8f8f8f"},{"test":"indexof(['H839R','R725H','I853M','R55G','V213L','V475E'],datum.s)>=0","value":"#a8a8a8"}],"value":"#c8c8c8"},"strokeDash":{"condition":{"test":"datum.s=='Empty'","value":[2.5,1.5]},"value":[1,0]}}},
    {"mark":{"type":"errorbar","ticks":{"size":3.5},"size":3.5,"thickness":0.6},"encoding":{"yError":{"field":"e"},"color":{"condition":[{"test":"datum.s=='Empty'","value":"#333333"},{"test":"datum.s=='WT'","value":"#cc6a6a"}],"value":"#b5b5b5"}}},
    {"mark":{"type":"point","size":24,"strokeWidth":0.8,"opacity":1},"encoding":{
      "shape":{"field":"s","type":"nominal","title":null,"scale":{"domain":["Empty","WT","T116R","V213L","H264L","R423T","R725H"],"range":["square","square","M0,-1L0.24,-0.33L0.95,-0.31L0.38,0.12L0.59,0.81L0,0.4L-0.59,0.81L-0.38,0.12L-0.95,-0.31L-0.24,-0.33Z","triangle-up","circle","circle","square"]}},
      "stroke":{"field":"s","type":"nominal","title":null,"scale":{"domain":["Empty","WT","T116R","V213L","H264L","R423T","R725H"],"range":["#111111","#a31f1f","#b8b8b8","#111111","#999999","#111111","#8a8a8a"]}},
      "fill":{"field":"s","type":"nominal","title":null,"scale":{"domain":["Empty","WT","T116R","V213L","H264L","R423T","R725H"],"range":["#111111","#a31f1f","#ffffff","#111111","#ffffff","#111111","#8a8a8a"]}}}}
   ]},
  {"width":99,"height":120,"transform":[{"filter":"datum.g=='B'&&datum.d=='5FU'"}],
   "encoding":{"x":{"field":"c","type":"ordinal","scale":{"type":"point","padding":0.45},"axis":{"title":"5-FU conc. (µM)","labelAngle":0}},
    "y":{"field":"v","type":"quantitative","scale":{"type":"log","domain":[10,107],"nice":false},"axis":{"title":"Viability (% of Empty)","values":[10,20,30,40,50,60,70,80,90,100],"format":"d","labelExpr":"datum.value==10||datum.value==50||datum.value==100?datum.label:''"}}},
   "layer":[
    {"mark":{"type":"line","strokeWidth":0.7},"encoding":{"detail":{"field":"s"},"color":{"condition":[{"test":"datum.s=='Empty'","value":"#2a2a2a"},{"test":"datum.s=='WT'","value":"#b83a3a"},{"test":"indexof(['M813I','R423T','D792N'],datum.s)>=0","value":"#8f8f8f"},{"test":"indexof(['H839R','R725H','I853M','R55G','V213L','V475E'],datum.s)>=0","value":"#a8a8a8"}],"value":"#c8c8c8"},"strokeDash":{"condition":{"test":"datum.s=='Empty'","value":[2.5,1.5]},"value":[1,0]}}},
    {"mark":{"type":"errorbar","ticks":{"size":3.5},"size":3.5,"thickness":0.6},"encoding":{"yError":{"field":"e"},"color":{"condition":[{"test":"datum.s=='Empty'","value":"#333333"},{"test":"datum.s=='WT'","value":"#cc6a6a"}],"value":"#b5b5b5"}}},
    {"mark":{"type":"point","size":24,"strokeWidth":0.8,"opacity":1},"encoding":{
      "shape":{"field":"s","type":"nominal","title":null,"scale":{"domain":["Empty","WT","T116R","V213L","H264L","R423T","R725H"],"range":["square","square","M0,-1L0.24,-0.33L0.95,-0.31L0.38,0.12L0.59,0.81L0,0.4L-0.59,0.81L-0.38,0.12L-0.95,-0.31L-0.24,-0.33Z","triangle-up","circle","circle","square"]}},
      "stroke":{"field":"s","type":"nominal","title":null,"scale":{"domain":["Empty","WT","T116R","V213L","H264L","R423T","R725H"],"range":["#111111","#a31f1f","#b8b8b8","#111111","#999999","#111111","#8a8a8a"]}},
      "fill":{"field":"s","type":"nominal","title":null,"scale":{"domain":["Empty","WT","T116R","V213L","H264L","R423T","R725H"],"range":["#111111","#a31f1f","#ffffff","#111111","#ffffff","#111111","#8a8a8a"]}}}}
   ]},
  {"width":98,"height":120,"transform":[{"filter":"datum.g=='B'&&datum.d=='MMS'"}],
   "encoding":{"x":{"field":"c","type":"ordinal","scale":{"type":"point","padding":0.45},"axis":{"title":"MMS conc. (µM)","labelAngle":0}},
    "y":{"field":"v","type":"quantitative","scale":{"type":"log","domain":[10,107],"nice":false},"axis":{"title":"Viability (% of Empty)","values":[10,20,30,40,50,60,70,80,90,100],"format":"d","labelExpr":"datum.value==10||datum.value==50||datum.value==100?datum.label:''"}}},
   "layer":[
    {"mark":{"type":"line","strokeWidth":0.7},"encoding":{"detail":{"field":"s"},"color":{"condition":[{"test":"datum.s=='Empty'","value":"#2a2a2a"},{"test":"datum.s=='WT'","value":"#b83a3a"},{"test":"indexof(['M813I','R423T','D792N'],datum.s)>=0","value":"#8f8f8f"},{"test":"indexof(['H839R','R725H','I853M','R55G','V213L','V475E'],datum.s)>=0","value":"#a8a8a8"}],"value":"#c8c8c8"},"strokeDash":{"condition":{"test":"datum.s=='Empty'","value":[2.5,1.5]},"value":[1,0]}}},
    {"mark":{"type":"errorbar","ticks":{"size":3.5},"size":3.5,"thickness":0.6},"encoding":{"yError":{"field":"e"},"color":{"condition":[{"test":"datum.s=='Empty'","value":"#333333"},{"test":"datum.s=='WT'","value":"#cc6a6a"}],"value":"#b5b5b5"}}},
    {"mark":{"type":"point","size":24,"strokeWidth":0.8,"opacity":1},"encoding":{
      "shape":{"field":"s","type":"nominal","title":null,"scale":{"domain":["Empty","WT","T116R","V213L","H264L","R423T","R725H"],"range":["square","square","M0,-1L0.24,-0.33L0.95,-0.31L0.38,0.12L0.59,0.81L0,0.4L-0.59,0.81L-0.38,0.12L-0.95,-0.31L-0.24,-0.33Z","triangle-up","circle","circle","square"]}},
      "stroke":{"field":"s","type":"nominal","title":null,"scale":{"domain":["Empty","WT","T116R","V213L","H264L","R423T","R725H"],"range":["#111111","#a31f1f","#b8b8b8","#111111","#999999","#111111","#8a8a8a"]}},
      "fill":{"field":"s","type":"nominal","title":null,"scale":{"domain":["Empty","WT","T116R","V213L","H264L","R423T","R725H"],"range":["#111111","#a31f1f","#ffffff","#111111","#ffffff","#111111","#8a8a8a"]}}}}
   ]}
 ]}]},
{"title":{"text":"C","anchor":"start","fontSize":8,"offset":0},
 "vconcat":[{"title":{"text":"PMS2 VUS expression (Vaco481)","anchor":"middle"},"spacing":1,"hconcat":[
  {"width":97,"height":122,"transform":[{"filter":"datum.g=='C'&&datum.d=='CDDP'"}],
   "encoding":{"x":{"field":"c","type":"ordinal","scale":{"type":"point","padding":0.45},"axis":{"title":"CDDP conc. (µM)","labelAngle":0}},
    "y":{"field":"v","type":"quantitative","scale":{"type":"log","domain":[10,120],"nice":false},"axis":{"title":"Viability (% of Empty)","values":[10,20,30,40,50,60,70,80,90,100],"format":"d","labelExpr":"datum.value==10||datum.value==50||datum.value==100?datum.label:''"}}},
   "layer":[
    {"mark":{"type":"line","strokeWidth":0.7},"encoding":{"detail":{"field":"s"},"color":{"condition":[{"test":"datum.s=='Empty'","value":"#2a2a2a"},{"test":"datum.s=='WT'","value":"#b83a3a"},{"test":"indexof(['M813I','R423T','D792N'],datum.s)>=0","value":"#8f8f8f"},{"test":"indexof(['H839R','R725H','I853M','R55G','V213L','V475E'],datum.s)>=0","value":"#a8a8a8"}],"value":"#c8c8c8"},"strokeDash":{"condition":{"test":"datum.s=='Empty'","value":[2.5,1.5]},"value":[1,0]}}},
    {"mark":{"type":"errorbar","ticks":{"size":3.5},"size":3.5,"thickness":0.6},"encoding":{"yError":{"field":"e"},"color":{"condition":[{"test":"datum.s=='Empty'","value":"#333333"},{"test":"datum.s=='WT'","value":"#cc6a6a"}],"value":"#b5b5b5"}}},
    {"mark":{"type":"point","size":24,"strokeWidth":0.8,"opacity":1},"encoding":{
      "shape":{"field":"s","type":"nominal","title":null,"scale":{"domain":["Empty","WT","S36R","V475E","D699H","D792N","I853M"],"range":["square","square","M0,-1L0.24,-0.33L0.95,-0.31L0.38,0.12L0.59,0.81L0,0.4L-0.59,0.81L-0.38,0.12L-0.95,-0.31L-0.24,-0.33Z","triangle-up","circle","circle","square"]}},
      "stroke":{"field":"s","type":"nominal","title":null,"scale":{"domain":["Empty","WT","S36R","V475E","D699H","D792N","I853M"],"range":["#111111","#a31f1f","#b8b8b8","#111111","#999999","#111111","#8a8a8a"]}},
      "fill":{"field":"s","type":"nominal","title":null,"scale":{"domain":["Empty","WT","S36R","V475E","D699H","D792N","I853M"],"range":["#111111","#a31f1f","#ffffff","#111111","#ffffff","#111111","#8a8a8a"]}}}}
   ]},
  {"width":99,"height":122,"transform":[{"filter":"datum.g=='C'&&datum.d=='5FU'"}],
   "encoding":{"x":{"field":"c","type":"ordinal","scale":{"type":"point","padding":0.45},"axis":{"title":"5-FU conc. (µM)","labelAngle":0}},
    "y":{"field":"v","type":"quantitative","scale":{"type":"log","domain":[10,120],"nice":false},"axis":{"title":"Viability (% of Empty)","values":[10,20,30,40,50,60,70,80,90,100],"format":"d","labelExpr":"datum.value==10||datum.value==50||datum.value==100?datum.label:''"}}},
   "layer":[
    {"mark":{"type":"line","strokeWidth":0.7},"encoding":{"detail":{"field":"s"},"color":{"condition":[{"test":"datum.s=='Empty'","value":"#2a2a2a"},{"test":"datum.s=='WT'","value":"#b83a3a"},{"test":"indexof(['M813I','R423T','D792N'],datum.s)>=0","value":"#8f8f8f"},{"test":"indexof(['H839R','R725H','I853M','R55G','V213L','V475E'],datum.s)>=0","value":"#a8a8a8"}],"value":"#c8c8c8"},"strokeDash":{"condition":{"test":"datum.s=='Empty'","value":[2.5,1.5]},"value":[1,0]}}},
    {"mark":{"type":"errorbar","ticks":{"size":3.5},"size":3.5,"thickness":0.6},"encoding":{"yError":{"field":"e"},"color":{"condition":[{"test":"datum.s=='Empty'","value":"#333333"},{"test":"datum.s=='WT'","value":"#cc6a6a"}],"value":"#b5b5b5"}}},
    {"mark":{"type":"point","size":24,"strokeWidth":0.8,"opacity":1},"encoding":{
      "shape":{"field":"s","type":"nominal","title":null,"scale":{"domain":["Empty","WT","S36R","V475E","D699H","D792N","I853M"],"range":["square","square","M0,-1L0.24,-0.33L0.95,-0.31L0.38,0.12L0.59,0.81L0,0.4L-0.59,0.81L-0.38,0.12L-0.95,-0.31L-0.24,-0.33Z","triangle-up","circle","circle","square"]}},
      "stroke":{"field":"s","type":"nominal","title":null,"scale":{"domain":["Empty","WT","S36R","V475E","D699H","D792N","I853M"],"range":["#111111","#a31f1f","#b8b8b8","#111111","#999999","#111111","#8a8a8a"]}},
      "fill":{"field":"s","type":"nominal","title":null,"scale":{"domain":["Empty","WT","S36R","V475E","D699H","D792N","I853M"],"range":["#111111","#a31f1f","#ffffff","#111111","#ffffff","#111111","#8a8a8a"]}}}}
   ]},
  {"width":98,"height":122,"transform":[{"filter":"datum.g=='C'&&datum.d=='MMS'"}],
   "encoding":{"x":{"field":"c","type":"ordinal","scale":{"type":"point","padding":0.45},"axis":{"title":"MMS conc. (µM)","labelAngle":0}},
    "y":{"field":"v","type":"quantitative","scale":{"type":"log","domain":[10,120],"nice":false},"axis":{"title":"Viability (% of Empty)","values":[10,20,30,40,50,60,70,80,90,100],"format":"d","labelExpr":"datum.value==10||datum.value==50||datum.value==100?datum.label:''"}}},
   "layer":[
    {"mark":{"type":"line","strokeWidth":0.7},"encoding":{"detail":{"field":"s"},"color":{"condition":[{"test":"datum.s=='Empty'","value":"#2a2a2a"},{"test":"datum.s=='WT'","value":"#b83a3a"},{"test":"indexof(['M813I','R423T','D792N'],datum.s)>=0","value":"#8f8f8f"},{"test":"indexof(['H839R','R725H','I853M','R55G','V213L','V475E'],datum.s)>=0","value":"#a8a8a8"}],"value":"#c8c8c8"},"strokeDash":{"condition":{"test":"datum.s=='Empty'","value":[2.5,1.5]},"value":[1,0]}}},
    {"mark":{"type":"errorbar","ticks":{"size":3.5},"size":3.5,"thickness":0.6},"encoding":{"yError":{"field":"e"},"color":{"condition":[{"test":"datum.s=='Empty'","value":"#333333"},{"test":"datum.s=='WT'","value":"#cc6a6a"}],"value":"#b5b5b5"}}},
    {"mark":{"type":"point","size":24,"strokeWidth":0.8,"opacity":1},"encoding":{
      "shape":{"field":"s","type":"nominal","title":null,"scale":{"domain":["Empty","WT","S36R","V475E","D699H","D792N","I853M"],"range":["square","square","M0,-1L0.24,-0.33L0.95,-0.31L0.38,0.12L0.59,0.81L0,0.4L-0.59,0.81L-0.38,0.12L-0.95,-0.31L-0.24,-0.33Z","triangle-up","circle","circle","square"]}},
      "stroke":{"field":"s","type":"nominal","title":null,"scale":{"domain":["Empty","WT","S36R","V475E","D699H","D792N","I853M"],"range":["#111111","#a31f1f","#b8b8b8","#111111","#999999","#111111","#8a8a8a"]}},
      "fill":{"field":"s","type":"nominal","title":null,"scale":{"domain":["Empty","WT","S36R","V475E","D699H","D792N","I853M"],"range":["#111111","#a31f1f","#ffffff","#111111","#ffffff","#111111","#8a8a8a"]}}}}
   ]}
 ]}]}
],
"config":{
 "font":"Liberation Sans",
 "view":{"stroke":null},
 "axis":{"grid":false,"domainColor":"#000000","domainWidth":1.4,"tickColor":"#000000","tickWidth":0.8,"tickSize":2.5,"labelFontSize":5.5,"labelFontWeight":"bold","labelColor":"#111111","labelPadding":0.5,"titleFontSize":5.5,"titleFontWeight":"normal","titleColor":"#111111","titlePadding":4},
 "axisX":{"titlePadding":6},
 "axisY":{"titleFontSize":5,"titlePadding":1.5},
 "legend":{"labelFontSize":6,"labelColor":"#111111","symbolSize":40,"rowPadding":0.5,"offset":6,"padding":0,"labelOffset":3,"symbolStrokeWidth":0.8},
 "title":{"fontSize":7,"fontWeight":"bold","color":"#111111","offset":3}
}
}
